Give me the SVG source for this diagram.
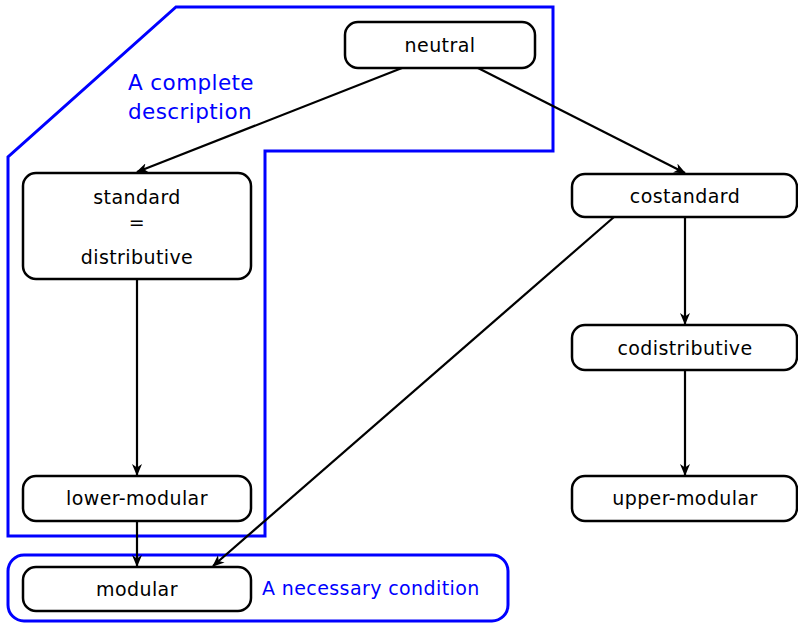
<svg xmlns="http://www.w3.org/2000/svg" width="798" height="623" viewBox="0 0 798 623">
  <defs>
    <style>
      .node rect { fill: #fff; stroke: #000; stroke-width: 2.5; }
      .node text { font-family: "DejaVu Sans", sans-serif; font-size: 19px; letter-spacing: 0.4px; text-anchor: middle; fill: #000; }
      .edges line { stroke: #000; stroke-width: 2.2; marker-end: url(#arrow); }
      .region { fill: none; stroke: #0000ff; stroke-width: 3; }
      .note { font-family: "DejaVu Sans", sans-serif; font-size: 19px; letter-spacing: 0.4px; fill: #0000ff; }
      .note.big { font-size: 21.5px; }
    </style>
    <marker id="arrow" viewBox="0 0 12 10" refX="11" refY="5" markerWidth="12" markerHeight="10" markerUnits="userSpaceOnUse" orient="auto">
      <path d="M0,0 L12,5 L0,10 L3.5,5 Z" fill="#000"/>
    </marker>
  </defs>

  <!-- grouping outlines -->
  <g id="regions">
    <path class="region" d="M176,7 L553,7 L553,151 L265,151 L265,536 L8,536 L8,157 Z"/>
    <rect class="region" x="8" y="555" width="500" height="66" rx="16"/>
    <text class="note big" x="191" y="90" text-anchor="middle">A complete</text>
    <text class="note big" x="190" y="119" text-anchor="middle">description</text>
    <text class="note" x="262" y="595">A necessary condition</text>
  </g>

  <!-- connectors -->
  <g id="edges" class="edges">
    <line x1="402" y1="68" x2="137" y2="172"/>
    <line x1="478" y1="68" x2="685" y2="173"/>
    <line x1="614" y1="217" x2="213" y2="566"/>
    <line x1="685" y1="217" x2="685" y2="324"/>
    <line x1="685" y1="370" x2="685" y2="475"/>
    <line x1="137" y1="279" x2="137" y2="475"/>
    <line x1="137" y1="521" x2="137" y2="566"/>
  </g>

  <g id="neutral" class="node">
    <rect x="345" y="22" width="190" height="46" rx="13"/>
    <text x="440" y="52">neutral</text>
  </g>
  <g id="standard" class="node">
    <rect x="23" y="173" width="228" height="106" rx="13"/>
    <text x="137" y="204">standard</text>
    <text x="137" y="229">=</text>
    <text x="137" y="264">distributive</text>
  </g>
  <g id="costandard" class="node">
    <rect x="572" y="174" width="225" height="43" rx="13"/>
    <text x="685" y="203">costandard</text>
  </g>
  <g id="codistributive" class="node">
    <rect x="572" y="325" width="225" height="45" rx="13"/>
    <text x="685" y="355">codistributive</text>
  </g>
  <g id="upper-modular" class="node">
    <rect x="572" y="476" width="225" height="45" rx="13"/>
    <text x="685" y="505">upper-modular</text>
  </g>
  <g id="lower-modular" class="node">
    <rect x="23" y="476" width="228" height="45" rx="13"/>
    <text x="137" y="505">lower-modular</text>
  </g>
  <g id="modular" class="node">
    <rect x="23" y="567" width="228" height="44" rx="13"/>
    <text x="137" y="596">modular</text>
  </g>
</svg>
